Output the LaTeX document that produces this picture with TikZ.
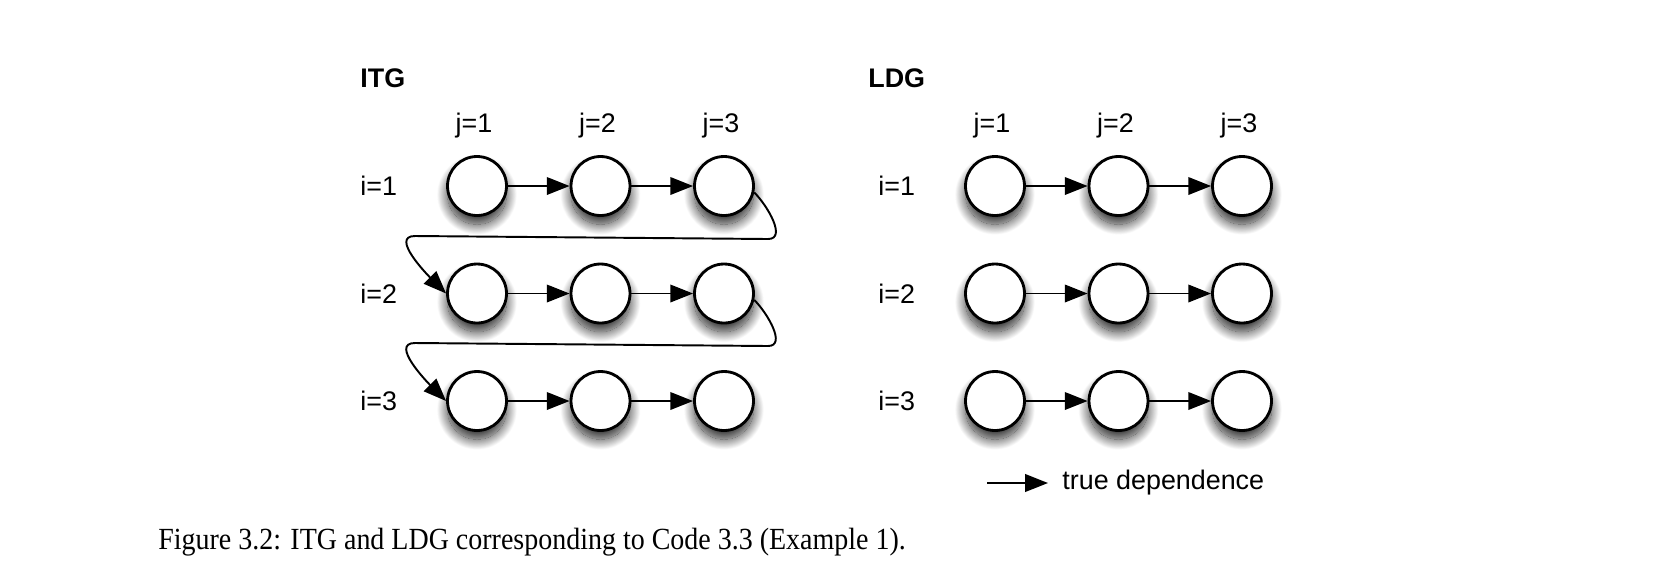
\documentclass[tikz,border=0pt]{standalone}
\usepackage{fontspec}
\usepackage{graphicx}
\setmainfont{Liberation Serif}
\setsansfont{Liberation Sans}
\usetikzlibrary{arrows.meta, shadows.blur}

\tikzset{
  iternode/.style={circle, draw=black, line width=1.6pt, fill=white, minimum size=1.18cm, inner sep=0pt,
    blur shadow={shadow xshift=0pt, shadow yshift=-5pt, shadow blur radius=6pt, shadow blur steps=25, shadow opacity=85}},
  dep/.style={line width=1.1pt, -{Triangle[length=13pt,width=10pt]}},
  lbl/.style={font=\sffamily\fontsize{15.3}{18}\selectfont, inner sep=0pt},
  title/.style={font=\sffamily\bfseries\fontsize{15.3}{18}\selectfont, inner sep=0pt},
}

\begin{document}
\begin{tikzpicture}[x=0.02cm, y=-0.02cm]
    % Define dimensions
    \def\colsep{123.5}
    \def\rowsep{107.5}
    \useasboundingbox (0,0) rectangle (1657,583);
    % Titles
    \node[title, anchor=base west] (itgtitle) at (360,87) {ITG};
    \node[title, anchor=base west] (ldgtitle) at (868,87) {LDG};
    % Draw both graphs
    \foreach \g/\x in {itg/477, ldg/995} {
        \foreach \j in {1,2,3}
            \node[lbl, anchor=base] (\g-j\j) at ({\x+(\j-1)*\colsep-3},132) {j=\j};
        \foreach \i in {1,2,3} {
            \node[lbl, anchor=west] (\g-i\i) at ({\x-117},{186+(\i-1)*\rowsep}) {i=\i};
            \foreach \j in {1,2,3}
                \node[iternode] (\g\i\j) at ({\x+(\j-1)*\colsep},{186+(\i-1)*\rowsep}) {};
            \draw[dep] (\g\i1) -- (\g\i2);
            \draw[dep] (\g\i2) -- (\g\i3);
        }
    }
    % Wrap-around edges of the ITG
    \coordinate (wrap1r) at (768,239);
    \coordinate (wrap1l) at (415,236);
    \coordinate (wrap2r) at (768,346);
    \coordinate (wrap2l) at (415,343);
    \draw[dep] (itg13.-12) to[out=-45,in=0] (wrap1r) -- (wrap1l) to[out=180,in=135] (itg21.west);
    \draw[dep] (itg23.-12) to[out=-45,in=0] (wrap2r) -- (wrap2l) to[out=180,in=135] (itg31.west);
    % Legend
    \node[lbl, anchor=base west, inner xsep=8pt] (legtext) at (1048,489) {true dependence};
    \coordinate (legtail) at (987,483);
    \draw[dep] (legtail) -- (legtail -| legtext.west);
    % Caption
    \node[anchor=base west, font=\fontsize{17.5}{20}\selectfont, inner sep=0pt] (caption) at (158,549)
        {\scalebox{0.91}[1]{Figure 3.2: ITG and LDG corresponding to Code 3.3 (Example 1).}};
\end{tikzpicture}
\end{document}
